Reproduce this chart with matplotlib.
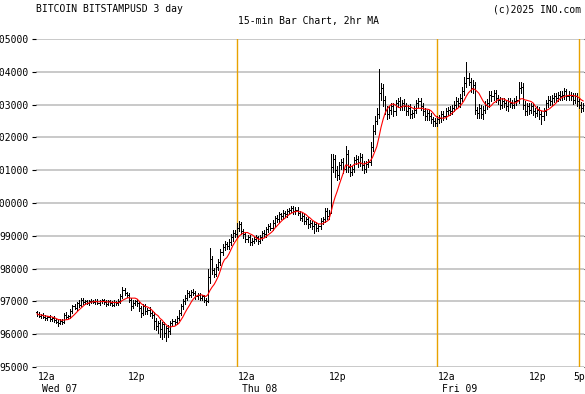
import matplotlib
matplotlib.use("Agg")
import matplotlib.pyplot as plt
import matplotlib.transforms as mtransforms
from matplotlib.collections import LineCollection
import numpy as np
import pandas as pd

# 15-min closes, Wed 07 00:00 -> Fri 09 ~17:30 (4 bars per hour)
closes = [
    96620, 96560, 96590, 96520, 96480, 96530, 96450, 96500,  # 0-1h
    96420, 96380, 96340, 96400, 96380, 96600, 96520, 96550,  # 2-3h
    96700, 96850, 96800, 96950, 96900, 97050, 96980, 97000,  # 4-5h
    96950, 97000, 97020, 96980, 97010, 96960, 97000, 97030,  # 6-7h
    96980, 96920, 97000, 96950, 96900, 96980, 96940, 97000,  # 8-9h
    97150, 97350, 97250, 97200, 97050, 96850, 96950, 97000,  # 10-11h
    96950, 96800, 96650, 96850, 96700, 96750, 96650, 96600,  # 12-13h
    96400, 96250, 96350, 96150, 96300, 96050, 96200, 96100,  # 14-15h
    96350, 96400, 96380, 96500, 96650, 96850, 97000, 97100,  # 16-17h
    97250, 97200, 97300, 97250, 97150, 97200, 97100, 97150,  # 18-19h
    97050, 97000, 97750, 98300, 97950, 97850, 98050, 98200,  # 20-21h
    98500, 98650, 98750, 98700, 98800, 98950, 99100, 99050,  # 22-23h
    99250, 99350, 99150, 99050, 98900, 98950, 98800, 98850,  # 24-25h
    98900, 98950, 98850, 98950, 99100, 99050, 99200, 99300,  # 26-27h
    99250, 99400, 99550, 99500, 99650, 99600, 99700, 99650,  # 28-29h
    99750, 99800, 99850, 99750, 99800, 99700, 99550, 99600,  # 30-31h
    99450, 99500, 99350, 99400, 99300, 99350, 99250, 99300,  # 32-33h
    99450, 99500, 99750, 99600, 99700, 101100, 101350, 101000,  # 34-35h
    100850, 101150, 101250, 101050, 101500, 101100, 100950, 101050,  # 36-37h
    101300, 101350, 101250, 101400, 101150, 101050, 101200, 101250,  # 38-39h
    101700, 102200, 102500, 102700, 103350, 103500, 103150, 102850,  # 40-41h
    102700, 102850, 102950, 102800, 103050, 103100, 102950, 103050,  # 42-43h
    102950, 102800, 102900, 102700, 102750, 102850, 103050, 103100,  # 44-45h
    102950, 102800, 102650, 102750, 102650, 102550, 102500, 102450,  # 46-47h
    102550, 102600, 102700, 102650, 102800, 102850, 102800, 102900,  # 48-49h
    103000, 103100, 103050, 103200, 103400, 103650, 103800, 103700,  # 50-51h
    103500, 103600, 102850, 102750, 102900, 102700, 102850, 103000,  # 52-53h
    103050, 103300, 103250, 103350, 103200, 103150, 103000, 103100,  # 54-55h
    103050, 102950, 103100, 103050, 103000, 103100, 103150, 103500,  # 56-57h
    103550, 103000, 102800, 102950, 102850, 102950, 102800, 102750,  # 58-59h
    102850, 102700, 102650, 102800, 103050, 103150, 103100, 103200,  # 60-61h
    103250, 103200, 103300, 103250, 103300, 103400, 103250, 103300,  # 62-63h
    103250, 103150, 103250, 103100, 103000, 102900, 102950,          # 64-65h
]
first_open = 96680

# how far each bar's high/low reaches past its open/close
wick_up = [
    40, 60, 30, 50, 70, 40, 60, 30,
    50, 40, 60, 50, 70, 40, 80, 50,
    60, 50, 70, 40, 80, 50, 60, 40,
    50, 40, 60, 30, 50, 60, 40, 50,
    40, 60, 50, 40, 60, 50, 40, 70,
    80, 100, 60, 50, 70, 60, 80, 40,
    60, 70, 50, 80, 60, 50, 70, 60,
    80, 100, 60, 90, 70, 80, 60, 70,
    60, 50, 70, 60, 80, 70, 60, 80,
    100, 60, 50, 70, 60, 50, 70, 60,
    50, 60, 250, 330, 80, 70, 90, 80,
    100, 90, 80, 70, 90, 100, 80, 90,
    150, 100, 70, 60, 80, 70, 60, 80,
    60, 70, 50, 80, 60, 90, 70, 60,
    80, 70, 60, 80, 70, 60, 80, 70,
    60, 50, 70, 60, 80, 70, 60, 80,
    70, 60, 80, 70, 60, 80, 70, 60,
    80, 70, 100, 90, 100, 400, 150, 120,
    120, 100, 90, 110, 250, 120, 100, 90,
    100, 120, 90, 110, 100, 120, 90, 100,
    150, 180, 160, 200, 750, 150, 130, 120,
    100, 120, 90, 110, 100, 90, 120, 100,
    110, 90, 100, 120, 100, 110, 90, 100,
    100, 90, 110, 100, 90, 100, 80, 90,
    90, 80, 100, 90, 110, 90, 100, 80,
    100, 120, 110, 130, 150, 200, 500, 150,
    120, 150, 100, 90, 110, 100, 120, 100,
    110, 120, 100, 90, 110, 100, 90, 100,
    100, 90, 110, 100, 90, 110, 100, 200,
    150, 120, 100, 90, 100, 110, 90, 100,
    100, 90, 110, 100, 90, 100, 110, 90,
    100, 110, 90, 100, 110, 100, 90, 100,
    90, 100, 110, 90, 100, 90, 100,
]
wick_dn = [
    50, 40, 60, 40, 50, 60, 40, 50,
    60, 50, 80, 40, 60, 50, 60, 40,
    50, 60, 40, 50, 60, 40, 50, 60,
    40, 50, 60, 40, 50, 40, 60, 50,
    60, 50, 40, 60, 50, 40, 60, 50,
    60, 50, 70, 60, 80, 100, 60, 70,
    80, 90, 120, 60, 80, 70, 90, 100,
    250, 120, 200, 250, 300, 150, 250, 200,
    100, 80, 90, 70, 80, 60, 70, 80,
    60, 70, 80, 60, 70, 80, 60, 70,
    80, 100, 20, 200, 120, 100, 90, 80,
    100, 90, 80, 100, 90, 80, 100, 90,
    80, 100, 90, 120, 100, 90, 80, 90,
    80, 70, 90, 80, 70, 80, 90, 70,
    80, 70, 90, 80, 70, 80, 90, 70,
    80, 90, 70, 80, 90, 70, 80, 90,
    80, 90, 100, 80, 90, 200, 100, 90,
    80, 90, 70, 80, 100, 20, 150, 200,
    150, 120, 100, 150, 120, 150, 120, 100,
    120, 100, 150, 120, 150, 130, 120, 100,
    80, 100, 90, 100, 120, 200, 180, 150,
    150, 120, 130, 140, 120, 130, 110, 120,
    120, 110, 130, 120, 110, 130, 120, 110,
    120, 130, 110, 120, 130, 110, 150, 100,
    110, 100, 120, 110, 100, 120, 110, 100,
    100, 110, 100, 120, 100, 110, 120, 100,
    120, 150, 150, 150, 150, 120, 130, 110,
    120, 110, 130, 120, 110, 130, 120, 110,
    120, 110, 130, 120, 110, 100, 120, 90,
    150, 130, 120, 110, 150, 120, 130, 120,
    110, 130, 250, 120, 110, 120, 100, 110,
    120, 110, 100, 120, 110, 130, 120, 100,
    110, 120, 100, 130, 110, 120, 100,
]

y_ticks = list(range(95000, 105001, 1000))
session_marks = [24, 48, 65]          # hours from Wed 00:00
hour_labels = [(0, "12a"), (12, "12p"), (24, "12a"), (36, "12p"),
               (48, "12a"), (60, "12p"), (65, "5p")]
day_labels = [(0, "Wed 07"), (24, "Thu 08"), (48, "Fri 09")]

closes = np.array(closes, dtype=float)
opens = np.concatenate([[first_open], closes[:-1]])
highs = np.maximum(opens, closes) + np.array(wick_up)
lows = np.minimum(opens, closes) - np.array(wick_dn)
hours = np.arange(len(closes)) * 0.25
ma = pd.Series(closes).rolling(8, min_periods=1).mean()

plt.rcParams["font.family"] = "DejaVu Sans Mono"
plt.rcParams["font.size"] = 7

fig = plt.figure(figsize=(5.85, 3.94), dpi=100)
ax = fig.add_axes([36 / 585, 27 / 394, 548 / 585, 328 / 394])

tick = 0.12
segs = []
for x, o, h, l, c in zip(hours, opens, highs, lows, closes):
    segs.append([(x, l), (x, h)])
    segs.append([(x - tick, o), (x, o)])
    segs.append([(x, c), (x + tick, c)])
ax.add_collection(LineCollection(segs, colors="black", linewidths=0.72,
                                 antialiaseds=False, zorder=3))
ax.plot(hours, ma, color="#ff0000", lw=0.8, zorder=4)

for h in session_marks:
    ax.axvline(h, color="#e8a200", lw=1.0, zorder=2)

ax.set_xlim(-0.12, 65.6)
ax.set_ylim(95000, 105000)
ax.set_yticks(y_ticks)
ax.set_yticklabels([str(v) for v in y_ticks])
ax.set_xticks([])
ax.grid(axis="y", color="#c0c0c0", lw=1.2)
ax.set_axisbelow(True)
for s in ax.spines.values():
    s.set_visible(False)
ax.tick_params(axis="y", left=True, right=True, length=3, width=0.8,
               color="black", pad=2, labelsize=7)

trans = mtransforms.blended_transform_factory(ax.transData, fig.transFigure)
for h, txt in hour_labels:
    ha = "left" if txt == "12a" else "center"
    ax.text(h + (0.1 if ha == "left" else 0), 17 / 394, txt, transform=trans,
            ha=ha, va="center", fontsize=7, clip_on=False)
for h, txt in day_labels:
    ax.text(h + 0.6, 5.5 / 394, txt, transform=trans,
            ha="left", va="center", fontsize=7, clip_on=False)

fig.text(36 / 585, 1 - 9 / 394, "BITCOIN BITSTAMPUSD 3 day", ha="left", va="center")
fig.text(308 / 585, 1 - 21 / 394, "15-min Bar Chart, 2hr MA", ha="center", va="center")
fig.text(581 / 585, 1 - 9 / 394, "(c)2025 INO.com", ha="right", va="center")

fig.savefig("out.png", dpi=100)
